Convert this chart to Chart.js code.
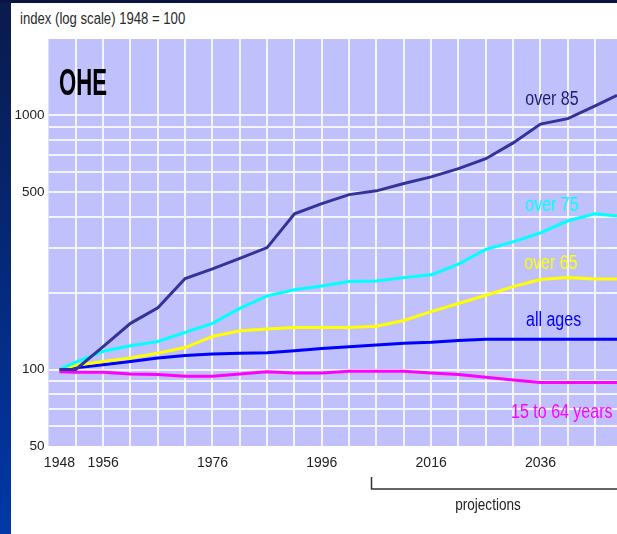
<!DOCTYPE html>
<html>
<head>
<meta charset="utf-8">
<script src="https://cdn.jsdelivr.net/npm/chart.js@4.4.1/dist/chart.umd.min.js"></script>
<style>
  html, body { margin: 0; padding: 0; }
  body { width: 617px; height: 534px; background: #fff; position: relative; overflow: hidden; }
  #leftbar { position: absolute; left: 0; top: 0; width: 11px; height: 534px;
    background: linear-gradient(to bottom, #0a1a4c, #0038a8); }
  #topbar { position: absolute; left: 0; top: 0; width: 617px; height: 3px; background: #0a1542; }
  #title { position: absolute; left: 20px; top: 10px; font: 16px "Liberation Sans", Arial, sans-serif; color: #2a2a2a;
    transform: scaleX(0.82); transform-origin: left top; white-space: nowrap; }
  canvas { position: absolute; left: 0; top: 0; }
</style>
</head>
<body>
<div id="leftbar"></div>
<div id="topbar"></div>
<div id="title">index (log scale) 1948 = 100</div>
<canvas id="chart" width="617" height="534"></canvas>
<script>
// years of the data points (index, 1948 = 100)
const years     = [1948, 1951, 1956, 1961, 1966, 1971, 1976, 1981, 1986, 1991, 1996, 2001, 2006, 2011, 2016, 2021, 2026, 2031, 2036, 2041, 2046, 2050];
const over85    = [100, 100, 123, 152, 175, 228, 249, 274, 302, 410, 450, 488, 505, 540, 573, 618, 676, 780, 925, 972, 1090, 1200];
const over75    = [100, 107, 118, 124, 129, 140, 152, 174, 195, 206, 213, 222, 223, 230, 236, 260, 297, 318, 345, 385, 410, 402];
const over65    = [100, 104, 107.5, 111, 116, 122, 135, 142, 144.5, 146.5, 146.5, 146.5, 148, 156, 169, 182, 196, 212, 226, 230, 227, 227];
const allAges   = [100, 101.5, 104.5, 107.5, 111, 113.5, 115, 116, 116.5, 118.5, 121, 123, 125, 127, 128, 130, 131.5, 131.5, 131.5, 131.5, 131.5, 131.5];
const age15to64 = [98, 97.6, 97.6, 96, 95.5, 94, 94, 96, 98, 97, 97, 98.5, 98.5, 98.5, 97, 95.5, 93.3, 91, 89, 89, 89, 89];

const xLabelYears = [1948, 1956, 1976, 1996, 2016, 2036];
const yLabelValues = [50, 100, 500, 1000];
const yGridValues = [50, 60, 70, 80, 90, 100, 200, 300, 400, 500, 600, 700, 800, 900, 1000, 2000];
const projectionStart = 2005;

// where the series names sit (year, index value)
const lineLabels = [
  { text: 'over 85', year: 2038.1, value: 1152, color: '#1e1e6e' },
  { text: 'over 75', year: 2038.1, value: 440, color: '#00ffff' },
  { text: 'over 65', year: 2037.9, value: 260, color: '#ffff00' },
  { text: 'all ages', year: 2038.4, value: 155.6, color: '#0000ff' },
  { text: '15 to 64 years', year: 2039.9, value: 67.4, color: '#ff00ff' }
];

const xMin = 1946, xMax = 2050;
const xGridYears = [1946, 1948];
for (let y = 1951; y <= 2046; y += 5) xGridYears.push(y);

const FONT = '"Liberation Sans", Arial, sans-serif';
Chart.defaults.font.family = FONT;

function pts(vals) {
  return years.map((yr, i) => ({ x: yr, y: vals[i] }));
}

// narrow, tall lettering like the original
function narrowText(ctx, text, x, y, size, squeeze) {
  ctx.save();
  ctx.translate(x, y);
  ctx.scale(squeeze, 1);
  ctx.font = size + 'px ' + FONT;
  ctx.fillText(text, 0, 0);
  ctx.restore();
}

const plotBg = {
  id: 'plotBg',
  beforeDraw(chart) {
    const a = chart.chartArea, ctx = chart.ctx;
    ctx.save();
    ctx.fillStyle = '#c0c0fc';
    ctx.fillRect(a.left, a.top, a.right - a.left, a.bottom - a.top);
    ctx.restore();
  }
};

const extras = {
  id: 'extras',
  afterDraw(chart) {
    const ctx = chart.ctx, xs = chart.scales.x, ys = chart.scales.y;
    ctx.save();
    ctx.textAlign = 'center';
    ctx.textBaseline = 'middle';
    lineLabels.forEach(l => {
      ctx.fillStyle = l.color;
      narrowText(ctx, l.text, xs.getPixelForValue(l.year), ys.getPixelForValue(l.value), 19.5, 0.82);
    });
    // logo
    ctx.textAlign = 'left';
    ctx.textBaseline = 'alphabetic';
    ctx.fillStyle = '#000';
    ctx.save();
    ctx.translate(59, 95);
    ctx.scale(0.6, 1);
    ctx.font = 'bold 37px ' + FONT;
    ctx.fillText('OHE', 0, 0);
    ctx.restore();
    // projections bracket
    const px = Math.round(xs.getPixelForValue(projectionStart)) + 0.5;
    ctx.strokeStyle = '#333';
    ctx.lineWidth = 1.5;
    ctx.beginPath();
    ctx.moveTo(px, 477);
    ctx.lineTo(px, 489);
    ctx.lineTo(617, 489);
    ctx.stroke();
    ctx.fillStyle = '#222';
    ctx.textAlign = 'center';
    ctx.textBaseline = 'middle';
    narrowText(ctx, 'projections', 488, 505, 16.5, 0.82);
    ctx.restore();
  }
};

const series = [
  { label: 'over 85', data: pts(over85), color: '#333399' },
  { label: 'over 75', data: pts(over75), color: '#00ffff' },
  { label: 'over 65', data: pts(over65), color: '#ffff00' },
  { label: 'all ages', data: pts(allAges), color: '#0000ff' },
  { label: '15 to 64 years', data: pts(age15to64), color: '#ff00ff' }
];

new Chart(document.getElementById('chart'), {
  type: 'line',
  data: {
    datasets: series.map(s => ({
      label: s.label,
      data: s.data,
      borderColor: s.color,
      borderWidth: 3,
      pointRadius: 0,
      tension: 0,
      fill: false
    }))
  },
  options: {
    responsive: false,
    animation: false,
    devicePixelRatio: 1,
    layout: { padding: { left: 0, right: 0, top: 39, bottom: 48 } },
    plugins: { legend: { display: false }, tooltip: { enabled: false } },
    scales: {
      x: {
        type: 'linear',
        min: xMin,
        max: xMax,
        afterBuildTicks: s => { s.ticks = xGridYears.map(v => ({ value: v })); },
        afterFit: s => { s.height = 40; },
        grid: {
          color: c => (c.tick && (c.tick.value === 1946 || c.tick.value === 1948)) ? 'rgba(0,0,0,0)' : '#f4f4ff',
          lineWidth: 2,
          drawTicks: false
        },
        border: { display: false },
        ticks: {
          autoSkip: false,
          maxRotation: 0,
          padding: 9,
          color: '#222',
          font: { size: 14 },
          callback: v => xLabelYears.includes(v) ? String(v) : ''
        }
      },
      y: {
        type: 'logarithmic',
        min: 50,
        max: 2000,
        afterBuildTicks: s => { s.ticks = yGridValues.map(v => ({ value: v })); },
        afterFit: s => { s.width = 48.5; },
        grid: {
          color: c => (c.tick && (c.tick.value === 50 || c.tick.value === 2000)) ? 'rgba(0,0,0,0)' : '#f4f4ff',
          lineWidth: 2,
          drawTicks: false
        },
        border: { display: false },
        ticks: {
          autoSkip: false,
          padding: 4,
          color: '#222',
          font: { size: 13.5 },
          callback: v => yLabelValues.includes(v) ? String(v) : ''
        }
      }
    }
  },
  plugins: [plotBg, extras]
});
</script>
</body>
</html>
